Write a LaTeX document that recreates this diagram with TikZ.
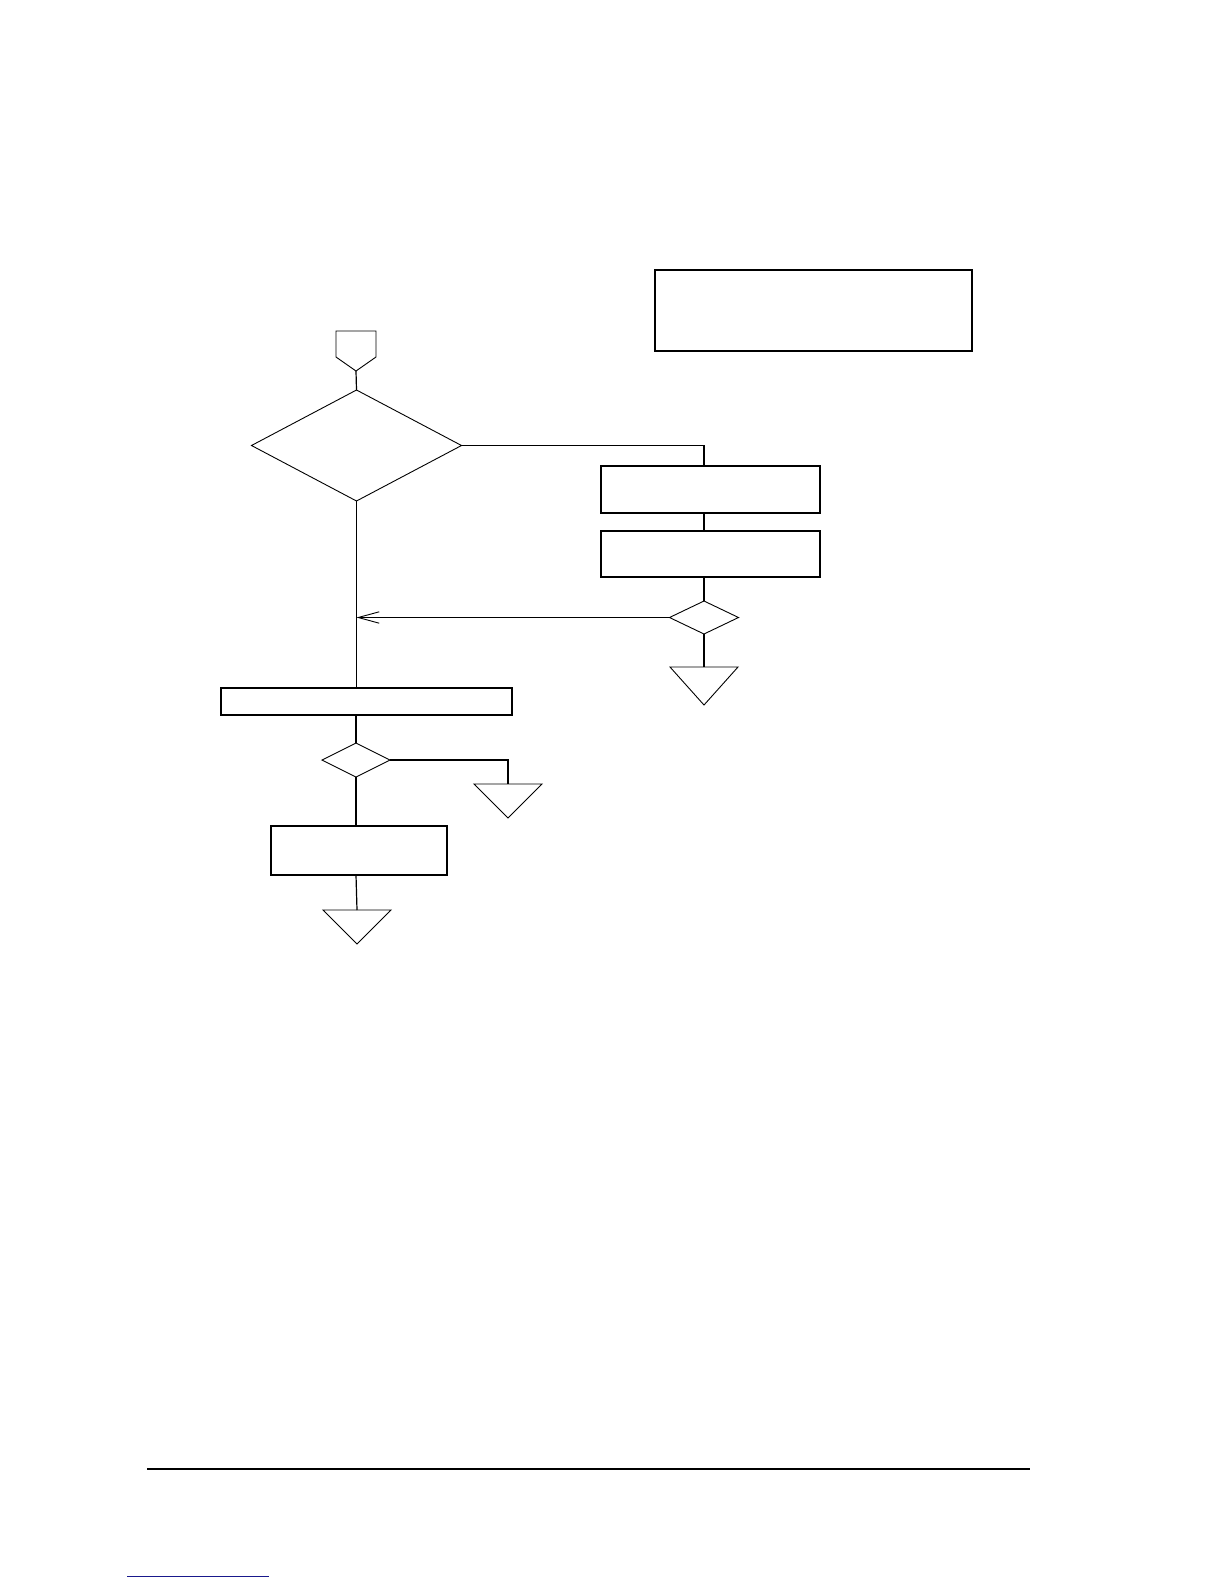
\documentclass[tikz,border=0pt]{standalone}
\usetikzlibrary{shapes.geometric,arrows.meta}
\definecolor{linkblue}{RGB}{25,25,140}
\begin{document}
\begin{tikzpicture}[x=0.5bp,y=-0.5bp,
  box/.style={draw,rectangle,line width=0.6bp,inner sep=0pt,outer sep=0pt},
  dec/.style={draw,diamond,line width=0.45bp,inner sep=0pt,outer sep=0pt},
  flow/.style={line width=0.6bp},
  term/.style={draw,line width=0.45bp,line join=miter},
  openarrow/.style={-{Straight Barb[length=10.5bp,width=5.7bp,line width=0.45bp]}}
]
\useasboundingbox (0,0) rectangle (1224,1584);
% boxes
\node[box,minimum width=317*0.5bp,minimum height=81*0.5bp] (note) at (813.5,310.5) {};
\node[box,minimum width=219*0.5bp,minimum height=47*0.5bp] (b1) at (710.5,489.5) {};
\node[box,minimum width=219*0.5bp,minimum height=46*0.5bp] (b2) at (710.5,554) {};
\node[box,minimum width=291*0.5bp,minimum height=27*0.5bp] (wide) at (366.5,701.5) {};
\node[box,minimum width=176*0.5bp,minimum height=49*0.5bp] (b3) at (359,850.5) {};
% decisions
\node[dec,minimum width=210*0.5bp,minimum height=111*0.5bp] (d1) at (356.5,445.5) {};
\node[dec,minimum width=69*0.5bp,minimum height=33*0.5bp] (d2) at (704,617.5) {};
\node[dec,minimum width=68*0.5bp,minimum height=34*0.5bp] (d3) at (356,760) {};
% off-page connector at the top
\coordinate (start) at (356,371);
\draw[term] (336,331) -- (376,331) -- (376,357) -- (start) -- (336,357) -- cycle;
% terminal triangles
\coordinate (t1) at (704,667);
\coordinate (t2) at (508,784);
\coordinate (t3) at (357,910);
\draw[term] (t1) ++(-34,0) -- ++(68,0) -- ++(-34,38) -- cycle;
\draw[term] (t2) ++(-34,0) -- ++(68,0) -- ++(-34,34) -- cycle;
\draw[term] (t3) ++(-34,0) -- ++(68,0) -- ++(-34,34) -- cycle;
% connectors
\draw[flow] (start) -- (d1.north);
\draw[flow] (d1.east) -| (d2 |- b1.north);
\draw[flow] (d2 |- b1.south) -- (d2 |- b2.north);
\draw[flow] (d2 |- b2.south) -- (d2.north);
\draw[flow] (d2.south) -- (t1);
\draw[flow,openarrow] (d2.west) -- (d1.south |- d2.west);
\draw[flow] (d1.south) -- (d1.south |- wide.north);
\draw[flow] (d3 |- wide.south) -- (d3.north);
\draw[flow] (d3.east) -| (t2);
\draw[flow] (d3.south) -- (d3.south |- b3.north);
\draw[flow] (d3.south |- b3.south) -- (t3);
% page rule and link underline
\coordinate (rl) at (147,1469);
\coordinate (rr) at (1030,1469);
\draw[line width=1.2bp] (rl) -- (rr);
\coordinate (ul) at (127,1576);
\coordinate (ur) at (269,1576);
\draw[linkblue,line width=0.5bp] (ul) -- (ur);
\end{tikzpicture}
\end{document}
